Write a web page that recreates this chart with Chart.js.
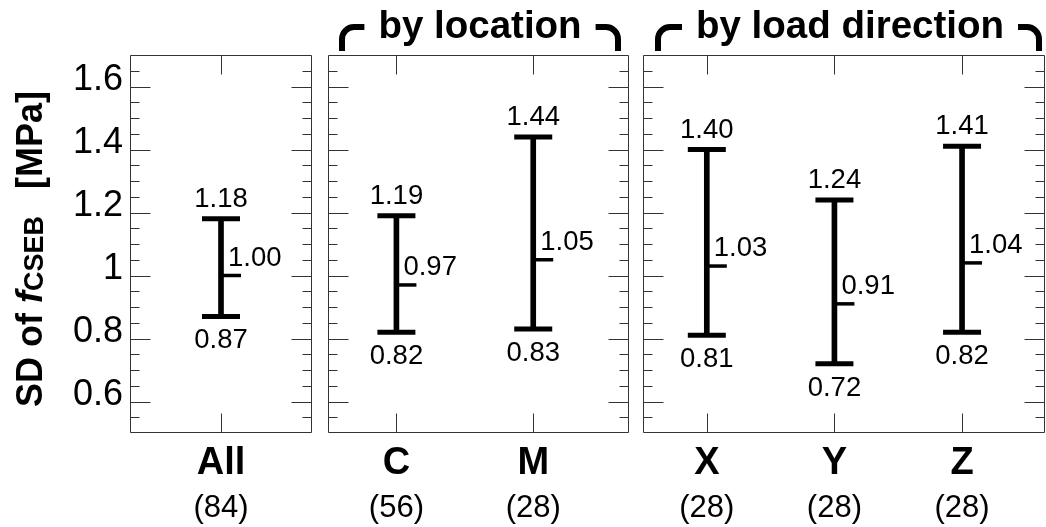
<!DOCTYPE html>
<html><head><meta charset="utf-8">
<script src="https://cdn.jsdelivr.net/npm/chart.js@4.4.1/dist/chart.umd.min.js"></script>
<style>
html,body{margin:0;padding:0;background:#fff;}
#wrap{position:relative;width:1046px;height:527px;overflow:hidden;background:#fff;}
canvas{position:absolute;top:0;}
</style></head><body>
<div id="wrap">
<canvas id="c1" width="322" height="527" style="left:0px"></canvas>
<canvas id="c2" width="322" height="527" style="left:318px"></canvas>
<canvas id="c3" width="413" height="527" style="left:633px"></canvas>
</div>
<script>
const FONT = "'Liberation Sans', Arial, Helvetica, sans-serif";

// ---- data ----
const panelTitles = ["", "by location", "by load direction"];
const groupNames  = [["All"], ["C", "M"], ["X", "Y", "Z"]];
const groupCounts = [[84], [56, 28], [28, 28, 28]];
const sdLow  = [[0.87], [0.82, 0.83], [0.81, 0.72, 0.82]];
const sdMean = [[1.00], [0.97, 1.05], [1.03, 0.91, 1.04]];
const sdHigh = [[1.18], [1.19, 1.44], [1.40, 1.24, 1.41]];
const yTickLabels = ["0.6", "0.8", "1", "1.2", "1.4", "1.6"];
const yTitle = ["SD of ", "f", "CSEB", "[MPa]"];

function yLabelFor(v) {
  const l = yTickLabels.find(s => Math.abs(Number(s) - v) < 1e-6);
  return l === undefined ? '' : l;
}

const decor = {
  id: 'decor',
  afterDatasetsDraw(chart) {
    const o = chart.options.plugins.decor;
    const p = o.panel;
    const {ctx, chartArea: a, scales} = chart;
    const xs = scales.x, ys = scales.y;
    ctx.save();
    ctx.fillStyle = '#000';
    ctx.font = `27.5px ${FONT}`;
    ctx.textBaseline = 'alphabetic';
    groupNames[p].forEach((n, i) => {
      const px = xs.getPixelForValue(i + 1);
      ctx.textAlign = 'center';
      ctx.fillText(sdHigh[p][i].toFixed(2), px, ys.getPixelForValue(sdHigh[p][i]) - 12);
      ctx.fillText(sdLow[p][i].toFixed(2), px, ys.getPixelForValue(sdLow[p][i]) + 32);
      ctx.textAlign = 'left';
      ctx.fillText(sdMean[p][i].toFixed(2), px + 7, ys.getPixelForValue(sdMean[p][i]) - 10);
    });
    const L = Math.round(a.left) + 0.5, R = Math.round(a.right) - 0.5;
    const T = Math.round(a.top) + 0.5, B = Math.round(a.bottom) - 0.5;
    ctx.strokeStyle = '#333';
    ctx.lineWidth = 1;
    ctx.beginPath();
    ctx.rect(L, T, R - L, B - T);
    ys.ticks.forEach(t => {
      const py = Math.round(ys.getPixelForValue(t.value)) + 0.5;
      if (py <= T + 1 || py >= B - 1) return;
      const len = yLabelFor(t.value) !== '' ? 20 : 9;
      ctx.moveTo(L, py); ctx.lineTo(L + len, py);
      ctx.moveTo(R, py); ctx.lineTo(R - len, py);
    });
    groupNames[p].forEach((n, i) => {
      const px = Math.round(xs.getPixelForValue(i + 1)) + 0.5;
      ctx.moveTo(px, T); ctx.lineTo(px, T + 19);
      ctx.moveTo(px, B); ctx.lineTo(px, B - 19);
    });
    ctx.stroke();

    if (o.yTitle) {
      const parts = [
        {t: yTitle[0], f: `bold 36px ${FONT}`, dy: 0, gap: 0},
        {t: yTitle[1], f: `italic bold 36px ${FONT}`, dy: 0, gap: 0},
        {t: yTitle[2], f: `bold 27px ${FONT}`, dy: 1, gap: 0},
        {t: yTitle[3], f: `bold 36px ${FONT}`, dy: 0, gap: 27}
      ];
      let total = 0;
      parts.forEach(q => { ctx.font = q.f; q.w = ctx.measureText(q.t).width; total += q.w + q.gap; });
      ctx.save();
      ctx.translate(42, 249);
      ctx.rotate(-Math.PI / 2);
      ctx.textAlign = 'left';
      ctx.textBaseline = 'alphabetic';
      let x = -total / 2;
      parts.forEach(q => { x += q.gap; ctx.font = q.f; ctx.fillText(q.t, x, q.dy); x += q.w; });
      ctx.restore();
    }
    if (panelTitles[p]) {
      ctx.font = `bold 38.5px ${FONT}`;
      ctx.textAlign = 'center';
      ctx.textBaseline = 'alphabetic';
      const cx = (a.left + a.right) / 2 + o.titleShift;
      const w = ctx.measureText(panelTitles[p]).width;
      ctx.fillText(panelTitles[p], cx, 38);
      ctx.lineWidth = 6;
      ctx.strokeStyle = '#000';
      ctx.lineCap = 'butt';
      const yb = 51, yt = 27, r = 12;
      const lx = a.left + o.bl, lh = cx - w / 2 - 14;
      const rx = a.right - o.br, rh = cx + w / 2 + 14;
      ctx.beginPath();
      ctx.moveTo(lx, yb); ctx.arcTo(lx, yt, lh, yt, r); ctx.lineTo(lh, yt);
      ctx.moveTo(rx, yb); ctx.arcTo(rx, yt, rh, yt, r); ctx.lineTo(rh, yt);
      ctx.stroke();
    }
    ctx.restore();
  }
};

function zeroPad(s) { s.paddingLeft = 0; s.paddingRight = 0; s.paddingTop = 0; s.paddingBottom = 0; }

function makeChart(id, p, cfg) {
  const pos = groupNames[p].map((_, i) => i + 1);
  const barData  = pos.map((x, i) => ({x, y: [sdLow[p][i], sdHigh[p][i]]}));
  const hiData   = pos.map((x, i) => ({x, y: sdHigh[p][i]}));
  const loData   = pos.map((x, i) => ({x, y: sdLow[p][i]}));
  const meanData = pos.map((x, i) => ({x, y: sdMean[p][i]}));
  const capSet = (data) => ({
    type: 'scatter', data, showLine: false, pointStyle: 'line', pointRadius: 19,
    pointBorderWidth: 5, pointBorderColor: '#000', borderColor: '#000', pointBackgroundColor: '#000', clip: false
  });
  const xCommon = {
    type: 'linear', position: 'bottom', min: 0.5, max: cfg.xMax, offset: false,
    grid: {display: false, drawTicks: false, offset: false}, border: {display: false},
    afterBuildTicks: s => { s.ticks = pos.map(v => ({value: v})); }
  };
  return new Chart(document.getElementById(id), {
    type: 'scatter',
    data: {
      datasets: [
        {type: 'bar', data: barData, backgroundColor: '#000', borderWidth: 0, barThickness: 5, xAxisID: 'x', yAxisID: 'y'},
        capSet(hiData),
        capSet(loData),
        {type: 'scatter', data: meanData, showLine: false, pointStyle: 'dash', pointRadius: 20,
         pointBorderWidth: 3.5, pointBorderColor: '#000', borderColor: '#000', clip: false}
      ]
    },
    options: {
      responsive: false, animation: false, events: [],
      layout: {autoPadding: false, padding: {top: 55, left: cfg.padL, right: cfg.padR, bottom: 0}},
      plugins: {
        legend: {display: false}, tooltip: {enabled: false},
        decor: {panel: p, yTitle: p === 0, titleShift: cfg.titleShift || 0, bl: cfg.bl || 0, br: cfg.br || 0}
      },
      scales: {
        x: Object.assign({}, xCommon, {
          weight: 0,
          ticks: {autoSkip: false, maxRotation: 0, color: '#000', padding: 8,
                  font: {family: FONT, size: 38, weight: 'bold'},
                  callback: (v, i) => groupNames[p][i]},
          afterFit: s => { s.height = 47; zeroPad(s); }
        }),
        x2: Object.assign({}, xCommon, {
          weight: 1,
          ticks: {autoSkip: false, maxRotation: 0, color: '#000', padding: 10,
                  font: {family: FONT, size: 31},
                  callback: (v, i) => '(' + groupCounts[p][i] + ')'},
          afterFit: s => { s.height = 47; zeroPad(s); }
        }),
        y: {
          type: 'linear', position: 'left', min: 0.5, max: 1.7,
          grid: {display: false, drawTicks: false}, border: {display: false},
          ticks: {stepSize: 0.05, autoSkip: false, display: p === 0, color: '#000', padding: 7, labelOffset: -6,
                  font: {family: FONT, size: 36}, callback: v => yLabelFor(v)},
          afterFit: s => { s.width = p === 0 ? 130 : 0; zeroPad(s); }
        }
      }
    },
    plugins: [decor]
  });
}

makeChart('c1', 0, {xMax: 1.5, padL: 0, padR: 10});
makeChart('c2', 1, {xMax: 2.7, padL: 10, padR: 11, titleShift: 1.5, bl: 14, br: 11});
makeChart('c3', 2, {xMax: 3.65, padL: 10, padR: 1, titleShift: 6, bl: 15, br: 6});
</script>
</body></html>
